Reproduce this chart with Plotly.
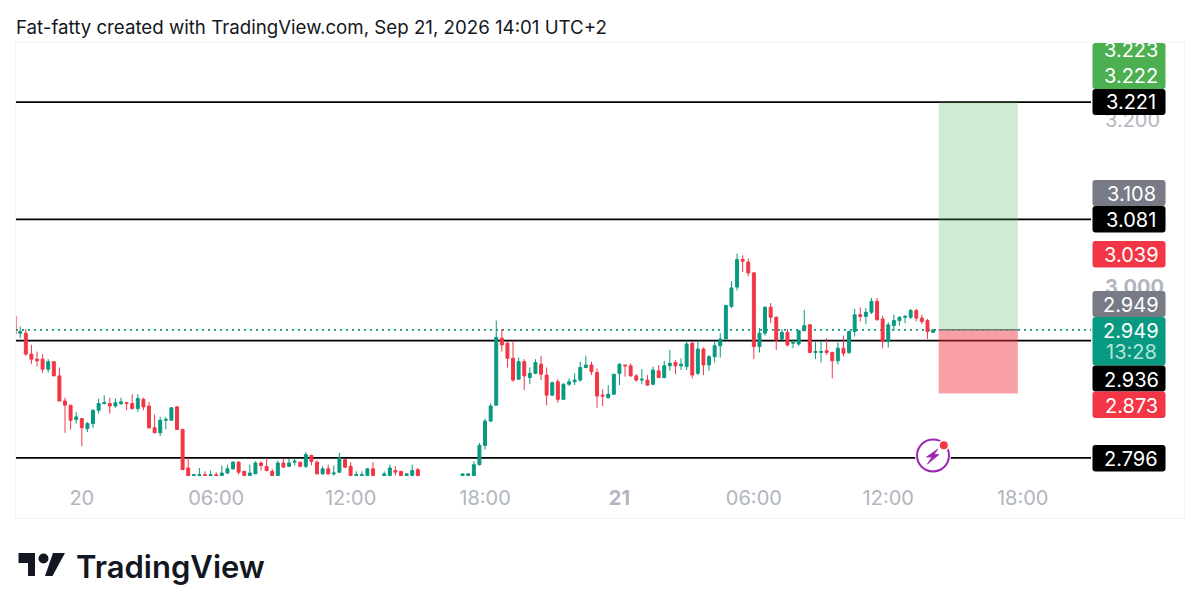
import pandas as pd
import plotly.graph_objects as go

# the page has an 8px body margin, so the figure sits at (8, 8)
PAGE_W = 1200
PAGE_H = 613
W = PAGE_W - 8
H = PAGE_H - 8

# 15 minute candles, None where the pair did not trade
opens = [2.965, 2.945, 2.945, 2.920, 2.914, 2.914, 2.902, 2.911, 2.894, 2.864,
         2.859, 2.842, 2.843, 2.831, 2.837, 2.853, 2.861, 2.861, 2.858, 2.861,
         2.862, 2.861, 2.855, 2.866, 2.858, 2.832, 2.826, 2.841, 2.841, 2.857,
         2.830, 2.784, 2.775, 2.775, 2.776, 2.775, 2.776, 2.775, 2.778, 2.783,
         2.791, 2.780, 2.775, 2.777, 2.790, 2.786, 2.780, 2.775, 2.790, 2.786,
         2.791, 2.791, 2.786, 2.799, 2.791, 2.777, 2.783, 2.777, 2.779, 2.794,
         2.786, 2.775, 2.775, 2.775, 2.783, None, 2.775, 2.775, 2.781, 2.780,
         2.775, 2.775, 2.782, None, None, None, None, None, None, None,
         2.775, 2.775, 2.775, 2.788, 2.811, 2.840, 2.859, 2.939, 2.933, 2.915,
         2.890, 2.911, 2.892, 2.897, 2.908, 2.895, 2.871, 2.887, 2.866, 2.884,
         2.887, 2.889, 2.904, 2.907, 2.898, 2.871, 2.868, 2.872, 2.897, 2.907,
         2.906, 2.894, 2.889, 2.889, 2.884, 2.900, 2.892, 2.906, 2.910, 2.906,
         2.905, 2.933, 2.897, 2.926, 2.907, 2.917, 2.930, 2.938, 2.977, 3.000,
         3.033, 3.030, 3.017, 2.929, 2.945, 2.976, 2.964, 2.938, 2.946, 2.933,
         2.932, 2.948, 2.955, 2.922, 2.922, 2.924, 2.922, 2.912, 2.927, 2.922,
         2.947, 2.967, 2.965, 2.970, 2.983, 2.962, 2.935, 2.954, 2.960, 2.964,
         2.964, 2.972, 2.963, 2.960, 2.946]
highs = [2.965, 2.953, 2.950, 2.931, 2.923, 2.920, 2.914, 2.911, 2.904, 2.868,
         2.859, 2.851, 2.843, 2.839, 2.854, 2.867, 2.871, 2.868, 2.867, 2.868,
         2.863, 2.872, 2.872, 2.868, 2.863, 2.848, 2.845, 2.845, 2.856, 2.858,
         2.831, 2.796, 2.776, 2.784, 2.780, 2.781, 2.779, 2.787, 2.788, 2.792,
         2.792, 2.780, 2.788, 2.792, 2.792, 2.796, 2.783, 2.793, 2.795, 2.795,
         2.796, 2.791, 2.803, 2.800, 2.793, 2.786, 2.788, 2.787, 2.802, 2.794,
         2.791, 2.780, 2.780, 2.784, 2.791, None, 2.780, 2.788, 2.786, 2.780,
         2.777, 2.788, 2.784, None, None, None, None, None, None, None,
         2.777, 2.777, 2.792, 2.814, 2.843, 2.861, 2.960, 2.950, 2.935, 2.936,
         2.916, 2.914, 2.904, 2.914, 2.918, 2.904, 2.887, 2.890, 2.885, 2.891,
         2.897, 2.911, 2.918, 2.911, 2.903, 2.878, 2.883, 2.896, 2.909, 2.907,
         2.909, 2.896, 2.902, 2.895, 2.905, 2.907, 2.912, 2.925, 2.913, 2.915,
         2.936, 2.935, 2.936, 2.928, 2.919, 2.935, 2.945, 2.979, 3.007, 3.040,
         3.038, 3.034, 3.018, 2.951, 2.977, 2.981, 2.965, 2.950, 2.950, 2.938,
         2.949, 2.973, 2.956, 2.935, 2.935, 2.939, 2.923, 2.934, 2.942, 2.948,
         2.974, 2.976, 2.975, 2.987, 2.987, 2.966, 2.958, 2.967, 2.965, 2.967,
         2.974, 2.974, 2.967, 2.962, 2.950]
lows = [2.944, 2.939, 2.918, 2.908, 2.905, 2.898, 2.898, 2.894, 2.864, 2.826,
        2.830, 2.837, 2.810, 2.827, 2.832, 2.849, 2.860, 2.849, 2.856, 2.859,
        2.853, 2.854, 2.851, 2.853, 2.831, 2.826, 2.822, 2.830, 2.841, 2.830,
        2.782, 2.775, 2.775, 2.775, 2.775, 2.775, 2.775, 2.775, 2.777, 2.782,
        2.776, 2.775, 2.775, 2.777, 2.781, 2.780, 2.775, 2.775, 2.785, 2.785,
        2.787, 2.785, 2.784, 2.787, 2.776, 2.776, 2.776, 2.775, 2.778, 2.784,
        2.775, 2.775, 2.775, 2.775, 2.775, None, 2.775, 2.775, 2.775, 2.775,
        2.775, 2.775, 2.775, None, None, None, None, None, None, None,
        2.775, 2.775, 2.775, 2.787, 2.806, 2.839, 2.859, 2.923, 2.904, 2.887,
        2.890, 2.877, 2.884, 2.896, 2.889, 2.859, 2.870, 2.862, 2.866, 2.882,
        2.883, 2.887, 2.903, 2.895, 2.856, 2.858, 2.867, 2.872, 2.883, 2.893,
        2.893, 2.887, 2.884, 2.882, 2.883, 2.892, 2.891, 2.900, 2.896, 2.901,
        2.901, 2.891, 2.895, 2.895, 2.900, 2.910, 2.916, 2.938, 2.975, 2.996,
        3.018, 3.013, 2.914, 2.922, 2.942, 2.957, 2.925, 2.937, 2.929, 2.927,
        2.930, 2.948, 2.921, 2.914, 2.910, 2.919, 2.891, 2.908, 2.917, 2.920,
        2.941, 2.959, 2.956, 2.968, 2.960, 2.927, 2.928, 2.948, 2.954, 2.957,
        2.962, 2.959, 2.956, 2.938, 2.946]
closes = [2.944, 2.947, 2.920, 2.914, 2.912, 2.902, 2.911, 2.894, 2.864, 2.859,
          2.841, 2.845, 2.832, 2.837, 2.853, 2.861, 2.862, 2.858, 2.862, 2.863,
          2.861, 2.855, 2.867, 2.857, 2.832, 2.826, 2.841, 2.842, 2.856, 2.830,
          2.782, 2.775, 2.776, 2.776, 2.775, 2.776, 2.775, 2.778, 2.783, 2.791,
          2.779, 2.775, 2.778, 2.790, 2.787, 2.781, 2.775, 2.790, 2.785, 2.790,
          2.792, 2.786, 2.800, 2.792, 2.777, 2.783, 2.777, 2.778, 2.796, 2.785,
          2.775, 2.776, 2.776, 2.783, 2.775, None, 2.777, 2.784, 2.779, 2.775,
          2.777, 2.781, 2.775, None, None, None, None, None, None, None,
          2.777, 2.777, 2.788, 2.811, 2.840, 2.858, 2.940, 2.931, 2.915, 2.889,
          2.911, 2.894, 2.897, 2.910, 2.896, 2.871, 2.886, 2.866, 2.884, 2.887,
          2.889, 2.904, 2.907, 2.899, 2.870, 2.870, 2.872, 2.896, 2.908, 2.906,
          2.894, 2.889, 2.890, 2.883, 2.901, 2.892, 2.906, 2.909, 2.906, 2.908,
          2.932, 2.895, 2.926, 2.907, 2.917, 2.930, 2.938, 2.978, 2.999, 3.033,
          3.031, 3.017, 2.929, 2.945, 2.976, 2.964, 2.937, 2.946, 2.931, 2.934,
          2.948, 2.954, 2.922, 2.923, 2.923, 2.922, 2.912, 2.927, 2.921, 2.947,
          2.967, 2.965, 2.970, 2.983, 2.961, 2.935, 2.955, 2.960, 2.964, 2.965,
          2.972, 2.963, 2.959, 2.947, 2.949]

times = pd.date_range("2026-09-19 21:00", periods=len(opens), freq="15min")

levels = [3.221, 3.081, 2.936, 2.796]
last_price = 2.949
entry_price = 2.949
target_price = 3.221
stop_price = 2.873

time_ticks = ["2026-09-20 00:00", "2026-09-20 06:00", "2026-09-20 12:00", "2026-09-20 18:00",
              "2026-09-21 00:00", "2026-09-21 06:00", "2026-09-21 12:00", "2026-09-21 18:00"]
time_labels = ["20", "06:00", "12:00", "18:00", "<b>21</b>", "06:00", "12:00", "18:00"]
price_ticks = [3.2, 3.0]
price_labels = ["3.200", "<b>3.000</b>"]

# price scale tags: top, bottom in pixels, colour, then their texts
tag_boxes = [(43, 89, "#4caf50"), (89, 115, "#000000"), (180, 206, "#787b86"), (206, 232.5, "#000000"),
             (241, 267.5, "#f23645"), (291, 317, "#787b86"), (317, 365.5, "#089981"),
             (365.5, 391.5, "#000000"), (391.5, 418, "#f23645"), (445, 471.5, "#000000")]
tag_texts = [("3.223", 50), ("3.222", 76), ("3.221", 102.5), ("3.108", 193.5), ("3.081", 219.5), ("3.039", 254.5),
             ("2.949", 304.5), ("2.949", 331), ("2.936", 379.5), ("2.873", 405.5), ("2.796", 458.5)]

FONT = "Inter"
TEXT_SIZE = 20


def px(x):
    return (x - 8) / W


def py(y):
    return 1 - (y - 8) / H


def rounded(x0, y0, x1, y1, r=3):
    x0, x1 = px(x0), px(x1)
    y0, y1 = py(y0), py(y1)
    rx, ry = r / W, r / H
    return (f"M{x0 + rx},{y0} L{x1 - rx},{y0} Q{x1},{y0} {x1},{y0 - ry} "
            f"L{x1},{y1 + ry} Q{x1},{y1} {x1 - rx},{y1} "
            f"L{x0 + rx},{y1} Q{x0},{y1} {x0},{y1 + ry} "
            f"L{x0},{y0 - ry} Q{x0},{y0} {x0 + rx},{y0} Z")


def poly(points):
    return "M" + " L".join(f"{px(x)},{py(y)}" for x, y in points) + " Z"


fig = go.Figure(go.Candlestick(
    x=times, open=opens, high=highs, low=lows, close=closes,
    increasing=dict(line=dict(color="#089981", width=1), fillcolor="#089981"),
    decreasing=dict(line=dict(color="#f23645", width=1), fillcolor="#f23645"),
    whiskerwidth=0, showlegend=False, hoverinfo="skip",
))

shapes = []

# panel border
shapes.append(dict(type="rect", xref="paper", yref="paper", x0=px(15.5), x1=px(1184.5), y0=py(518.5), y1=py(42),
                   line=dict(color="#f0f3fa", width=1), layer="below"))

# horizontal levels
for lv in levels:
    shapes.append(dict(type="line", xref="x domain", yref="y", x0=0, x1=1, y0=lv, y1=lv,
                       line=dict(color="#000000", width=1.8), layer="below"))
shapes.append(dict(type="line", xref="x domain", yref="y", x0=0, x1=1, y0=last_price, y1=last_price,
                   line=dict(color="#089981", width=1.8, dash="2px,4px"), layer="below"))

# long position box
shapes.append(dict(type="rect", x0="2026-09-21 14:15", x1="2026-09-21 17:47", y0=entry_price, y1=target_price,
                   fillcolor="rgba(76,175,80,0.26)", line_width=0, layer="above"))
shapes.append(dict(type="rect", x0="2026-09-21 14:15", x1="2026-09-21 17:47", y0=stop_price, y1=entry_price,
                   fillcolor="rgba(242,54,69,0.48)", line_width=0, layer="above"))
shapes.append(dict(type="line", x0="2026-09-21 14:15", x1="2026-09-21 17:47", y0=entry_price, y1=entry_price,
                   line=dict(color="#6f7f7c", width=1.5), layer="above"))

# price scale tags
for top, bottom, colour in tag_boxes:
    shapes.append(dict(type="path", xref="paper", yref="paper", path=rounded(1092.5, top, 1165.5, bottom),
                       fillcolor=colour, line_width=0, layer="above"))

# lightning badge
shapes.append(dict(type="circle", xref="paper", yref="paper", x0=px(915), x1=px(951), y0=py(473.5), y1=py(437.5),
                   fillcolor="#ffffff", line_width=0, layer="above"))
shapes.append(dict(type="circle", xref="paper", yref="paper", x0=px(917), x1=px(949), y0=py(471.5), y1=py(439.5),
                   fillcolor="#ffffff", line=dict(color="#9c27b0", width=2), layer="above"))
shapes.append(dict(type="path", xref="paper", yref="paper",
                   path=poly([(938, 449), (926.5, 457), (932, 457), (927.5, 464), (939, 454.5), (934, 454.5)]),
                   fillcolor="#9c27b0", line=dict(color="#9c27b0", width=0.8), layer="above"))
shapes.append(dict(type="circle", xref="paper", yref="paper", x0=px(938), x1=px(949.5), y0=py(451), y1=py(439.5),
                   fillcolor="#ffffff", line_width=0, layer="above"))
shapes.append(dict(type="circle", xref="paper", yref="paper", x0=px(939.8), x1=px(947.8), y0=py(449.3), y1=py(441.3),
                   fillcolor="#f23645", line_width=0, layer="above"))

# TradingView logo
shapes.append(dict(type="path", xref="paper", yref="paper",
                   path=poly([(18.5, 553), (35, 553), (35, 576), (28, 576), (28, 563), (18.5, 563)]),
                   fillcolor="#131722", line_width=0))
shapes.append(dict(type="circle", xref="paper", yref="paper", x0=px(38.5), x1=px(48.5), y0=py(563.5), y1=py(553.5),
                   fillcolor="#131722", line_width=0))
shapes.append(dict(type="path", xref="paper", yref="paper",
                   path=poly([(53, 553), (65, 553), (52.5, 576), (45, 576)]),
                   fillcolor="#131722", line_width=0))

annotations = [
    dict(text="Fat-fatty created with TradingView.com, Sep 21, 2026 14:01 UTC+2", xref="paper", yref="paper",
         x=px(14), y=py(27), xanchor="left", yanchor="middle", showarrow=False,
         font=dict(family=FONT, size=18.7, color="#131722")),
    dict(text="TradingView", xref="paper", yref="paper", x=px(74), y=py(566), xanchor="left", yanchor="middle",
         showarrow=False, font=dict(family=FONT, size=31, color="#131722", weight=600)),
    dict(text="13:28", xref="paper", yref="paper", x=px(1131), y=py(352), xanchor="center", yanchor="middle",
         showarrow=False, font=dict(family=FONT, size=TEXT_SIZE, color="#b5e3d9")),
]
for text, y in tag_texts:
    annotations.append(dict(text=text, xref="paper", yref="paper", x=px(1131), y=py(y), xanchor="center",
                            yanchor="middle", showarrow=False,
                            font=dict(family=FONT, size=TEXT_SIZE, color="#ffffff")))

fig.update_layout(
    width=W, height=H, margin=dict(l=0, r=0, t=0, b=0),
    paper_bgcolor="#ffffff", plot_bgcolor="#ffffff",
    boxgap=0.25,
    shapes=shapes, annotations=annotations,
    xaxis=dict(domain=[px(16), px(1091)], range=["2026-09-19 21:03:45", "2026-09-21 21:03"], type="date",
               rangeslider=dict(visible=False), showgrid=False, zeroline=False, showline=False,
               tickmode="array", tickvals=time_ticks, ticktext=time_labels, ticks="",
               tickfont=dict(family=FONT, size=TEXT_SIZE, color="#b2b5be"), tickangle=0),
    yaxis=dict(domain=[py(484), py(42)], range=[2.7649, 3.2927], side="right", showgrid=False, zeroline=False,
               showline=False, tickmode="array", tickvals=price_ticks, ticktext=price_labels, ticks="",
               ticklabelstandoff=13, tickfont=dict(family=FONT, size=TEXT_SIZE, color="#b2b5be")),
)

fig.write_html("out.html")
